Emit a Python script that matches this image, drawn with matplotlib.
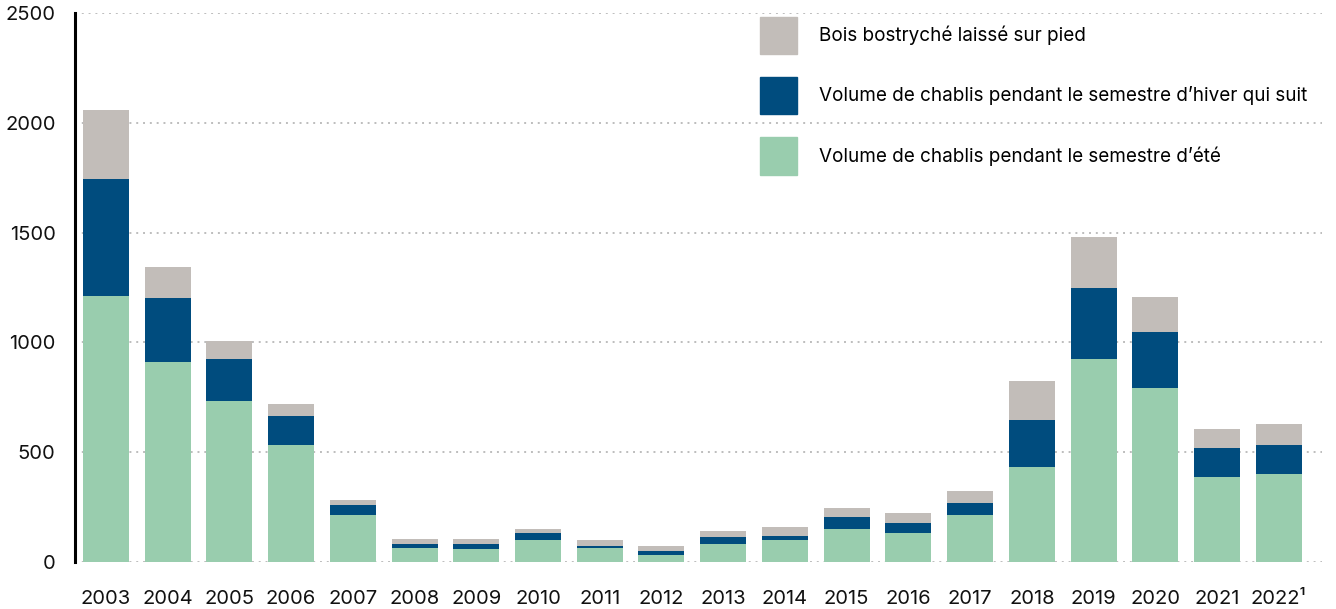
import matplotlib.pyplot as plt
from matplotlib.patches import Patch

plt.rcParams["font.family"] = ["Inter", "DejaVu Sans"]

years = ["2003", "2004", "2005", "2006", "2007", "2008", "2009", "2010", "2011", "2012",
         "2013", "2014", "2015", "2016", "2017", "2018", "2019", "2020", "2021", "2022¹"]
# cumulative tops
summer = [1211, 913, 734, 535, 212, 62, 57, 102, 62, 30, 80, 98, 152, 134, 216, 431, 926, 794, 389, 402]
winter_top = [1744, 1202, 925, 666, 258, 84, 84, 130, 75, 48, 116, 120, 206, 179, 270, 648, 1249, 1049, 521, 534]
total_top = [2057, 1344, 1008, 720, 284, 107, 107, 152, 98, 71, 143, 161, 247, 224, 325, 826, 1482, 1208, 607, 630]

winter = [w - s for w, s in zip(winter_top, summer)]
standing = [t - w for t, w in zip(total_top, winter_top)]

c_green = "#99cdae"
c_blue = "#004c7e"
c_grey = "#c2bdb9"

fig = plt.figure(figsize=(13.36, 6.09), dpi=100)
ax = fig.add_axes([75 / 1336, 1 - 562 / 609, (1322 - 75) / 1336, 549 / 609])

x = range(len(years))
w = 0.745
ax.bar(x, summer, w, color=c_green, zorder=2)
ax.bar(x, winter, w, bottom=summer, color=c_blue, zorder=2)
ax.bar(x, standing, w, bottom=winter_top, color=c_grey, zorder=2)

ax.set_xlim(-0.5, 19.7)
ax.set_ylim(0, 2500)
ax.set_yticks([0, 500, 1000, 1500, 2000, 2500])
ax.set_xticks(list(x))
ax.set_xticklabels(years)
ax.tick_params(axis="both", length=0, labelsize=14.5, colors="#111111")
ax.tick_params(axis="x", pad=20)
ax.tick_params(axis="y", pad=14)

ax.grid(axis="y", color="#bdbdbd", linestyle=(0, (1, 2.5)), linewidth=1.4, zorder=1)
for s in ["top", "right", "bottom"]:
    ax.spines[s].set_visible(False)
ax.spines["left"].set_linewidth(2.2)
ax.spines["left"].set_color("black")
ax.spines["left"].set_zorder(3)

handles = [
    Patch(color=c_grey, label="Bois bostryché laissé sur pied"),
    Patch(color=c_blue, label="Volume de chablis pendant le semestre d’hiver qui suit"),
    Patch(color=c_green, label="Volume de chablis pendant le semestre d’été"),
]
ax.legend(handles=handles, loc="upper left", bbox_to_anchor=((760 - 75) / 1247, (562 - 17) / 549),
          frameon=False, fontsize=13.6, handlelength=1.95, handleheight=2.67,
          handletextpad=1.15, labelspacing=1.2, borderpad=0, borderaxespad=0)

fig.savefig("out.png", dpi=100)
